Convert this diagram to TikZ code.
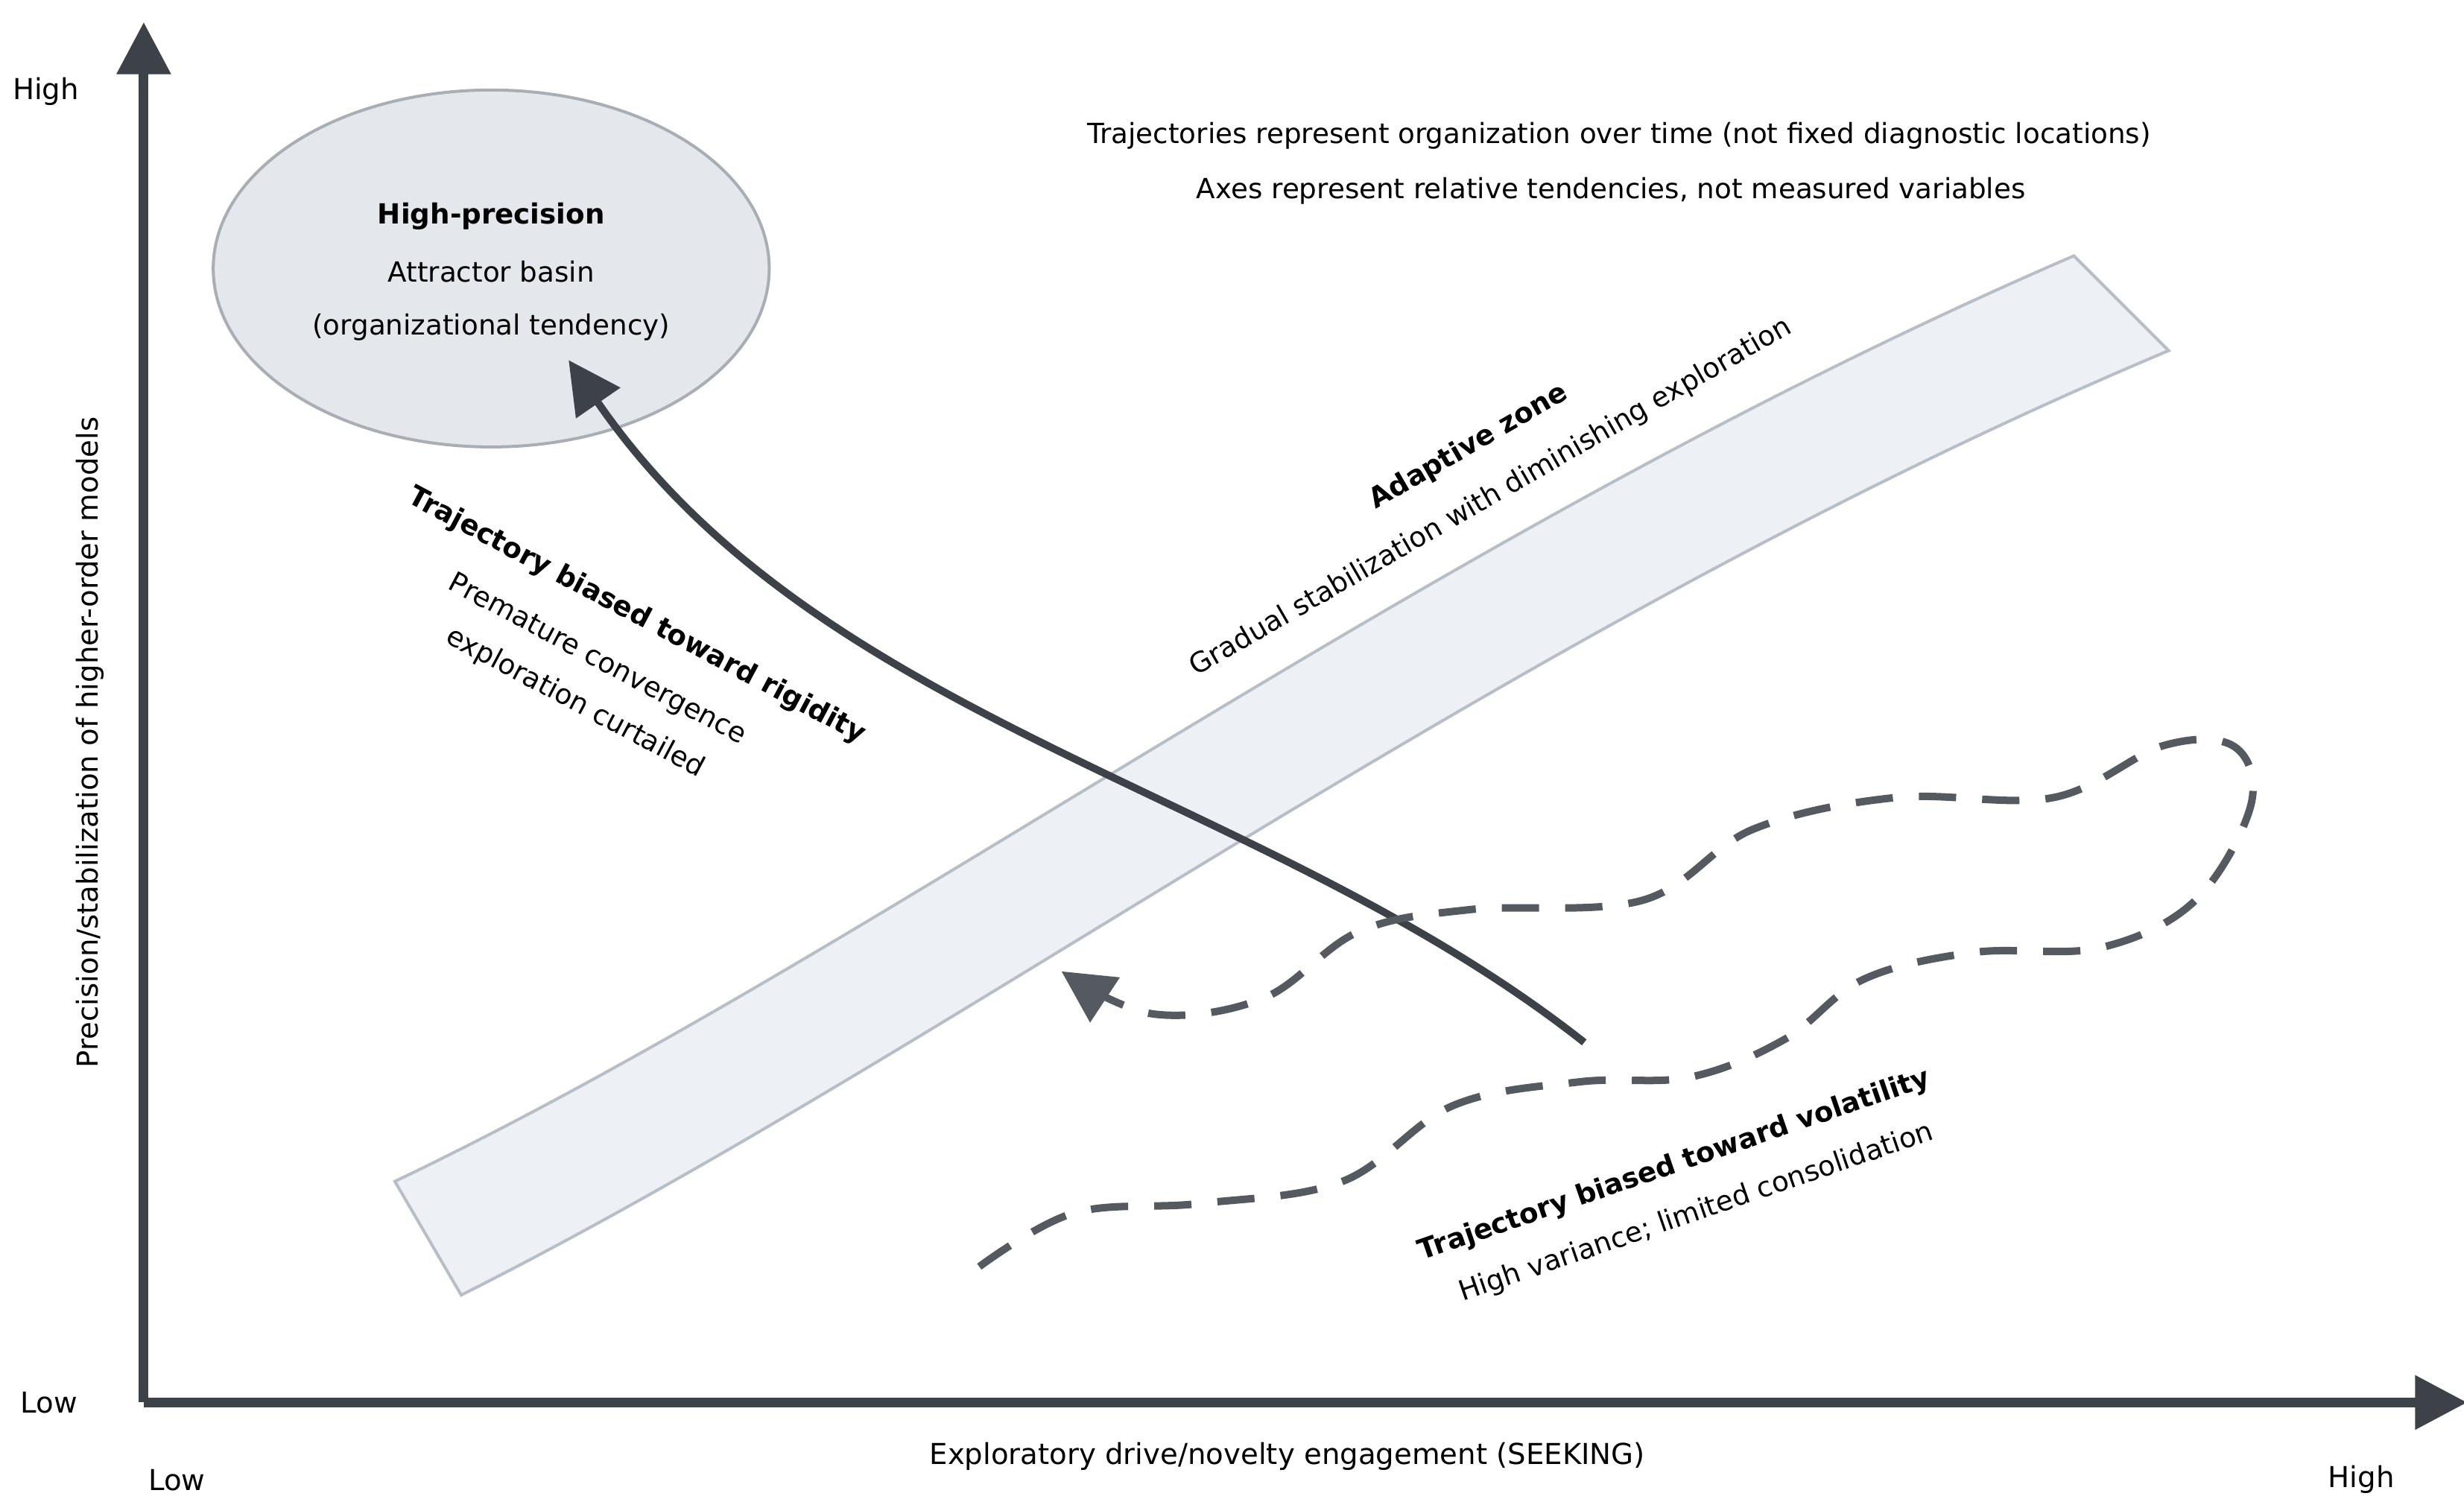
\documentclass[tikz,border=0pt]{standalone}
\usepackage{fontspec}
\setmainfont{DejaVu Sans}
\usetikzlibrary{arrows.meta}
\definecolor{ax}{HTML}{3D4148}
\definecolor{bandf}{HTML}{EDF1F5}
\definecolor{bandd}{HTML}{B8BEC5}
\definecolor{ellf}{HTML}{E4E7EB}
\definecolor{elld}{HTML}{A9AEB5}
\definecolor{dash}{HTML}{555A60}
\begin{document}
\begin{tikzpicture}[x=0.0212cm,y=-0.0212cm,
  txt/.style={font=\fontsize{10.6}{12}\selectfont, inner sep=0pt},
  btxt/.style={txt, font=\fontsize{10.6}{12}\selectfont\bfseries},
  axis/.style={draw=ax, line width=1.3mm},
  tip/.style={-{Triangle[length=7mm,width=7mm]}}]
\useasboundingbox (0,0) rectangle (1560,949);
% band
\path[fill=bandf, draw=bandd, line width=0.4mm] (250,748) .. controls (560,600) and (900,340) .. (1313,162) -- (1373,222) .. controls (950,400) and (610,660) .. (292,820) -- cycle;
% ellipse
\draw[draw=elld, fill=ellf, line width=0.4mm] (311,170) ellipse [x radius=176, y radius=113];
\node[btxt] (hp) at (311,137) {High-precision};
\node[txt] (ab) at (311,172) {Attractor basin};
\node[txt] (ot) at (311,207) {(organizational tendency)};
% axes
\coordinate (o) at (91,888);
\coordinate (yt) at (91,14);
\coordinate (xt) at (1562,888);
\draw[axis, tip] (o) -- (yt);
\draw[axis, tip] (o) -- (xt);
\node[txt, font=\fontsize{11}{13}\selectfont] (hh) at (29,58) {High};
\node[txt, font=\fontsize{11}{13}\selectfont] (hl) at (31,888) {Low};
\node[txt, font=\fontsize{11}{13}\selectfont] (xl) at (112,937) {Low};
\node[txt, font=\fontsize{11}{13}\selectfont] (xh) at (1495,937) {High};
\node[txt, font=\fontsize{11}{13}\selectfont] (xlab) at (815,922) {Exploratory drive/novelty engagement (SEEKING)};
\node[txt, font=\fontsize{11}{13}\selectfont, rotate=90] (ylab) at (57,470) {Precision/stabilization of higher-order models};
% notes
\node[txt] (n1) at (1025,86) {Trajectories represent organization over time (not fixed diagnostic locations)};
\node[txt] (n2) at (1020,121) {Axes represent relative tendencies, not measured variables};
% adaptive zone
\node[btxt, rotate=30] (az) at (930,283) {Adaptive zone};
\node[txt, rotate=30] (gs) at (944,315) {Gradual stabilization with diminishing exploration};
% solid trajectory
\coordinate (s0) at (1003,660);
\coordinate (s1) at (360,228);
\draw[draw=ax, line width=1mm, tip] (s0) .. controls (800,500) and (520,460) .. (s1);
\node[btxt, rotate=-28] (tr) at (403,390) {Trajectory biased toward rigidity};
\node[txt, rotate=-28] (pc) at (378,418) {Premature convergence};
\node[txt, rotate=-28] (ec) at (364,445) {exploration curtailed};
% dashed trajectory
\coordinate (d0) at (620,802);
\coordinate (d1) at (672,615);
\draw[draw=dash, line width=1mm, dash pattern=on 5mm off 3.5mm, tip] plot[smooth, tension=0.6] coordinates {
(d0) (680,768) (760,762) (850,748) (920,700) (1000,685) (1070,682) (1130,658) (1180,620) (1250,603) (1330,600) (1390,570) (1425,510) (1415,473) (1370,472) (1300,505) (1200,505) (1110,525) (1040,570) (930,576) (860,590) (800,632) (730,642) (d1)};
\node[btxt, rotate=19] (tv) at (1060,738) {Trajectory biased toward volatility};
\node[txt, rotate=19] (hv) at (1074,768) {High variance; limited consolidation};
\end{tikzpicture}
\end{document}
